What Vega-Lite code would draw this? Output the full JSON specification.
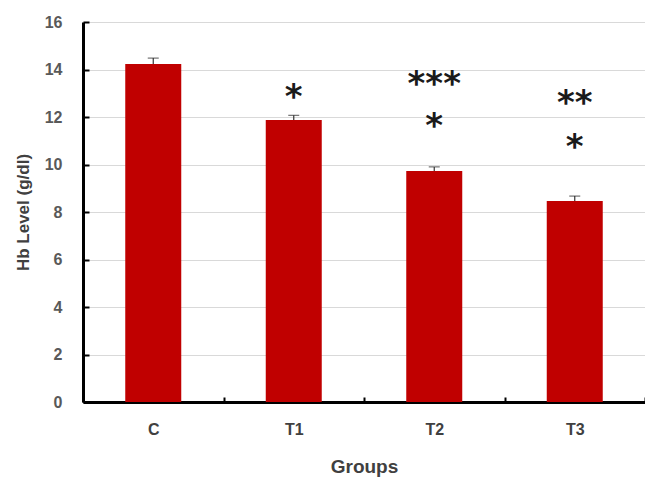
{
  "$schema": "https://vega.github.io/schema/vega-lite/v6.json",
  "autosize": {"type": "none"},
  "width": 562,
  "height": 380,
  "padding": {"left": 83, "top": 22, "right": 0, "bottom": 77},
  "background": "white",
  "config": {"view": {"stroke": null}, "font": "Liberation Sans"},
  "datasets": {
    "bars": [
      {"group": "C", "value": 14.23, "err": 0.25},
      {"group": "T1", "value": 11.87, "err": 0.2},
      {"group": "T2", "value": 9.73, "err": 0.17},
      {"group": "T3", "value": 8.46, "err": 0.21}
    ],
    "stars": [
      {"group": "T1", "label": "*", "pos": 13.09},
      {"group": "T2", "label": "***", "pos": 13.64},
      {"group": "T2", "label": "*", "pos": 11.87},
      {"group": "T3", "label": "**", "pos": 12.84},
      {"group": "T3", "label": "*", "pos": 10.99}
    ]
  },
  "layer": [
    {
      "data": {"name": "bars"},
      "mark": {"type": "bar", "color": "#c00000", "width": 56},
      "encoding": {
        "x": {
          "field": "group", "type": "nominal", "sort": null,
          "scale": {"paddingInner": 0, "paddingOuter": 0},
          "axis": {
            "title": "Groups", "titleFontSize": 19, "titleFontWeight": "bold", "titleColor": "#404040",
            "titlePadding": 20,
            "labelAngle": 0, "labelFontSize": 16, "labelFontWeight": "bold", "labelColor": "#404040",
            "labelPadding": 24,
            "domainColor": "black", "domainWidth": 3,
            "ticks": true, "tickBand": "extent", "tickSize": -5, "tickColor": "black", "tickWidth": 2,
            "grid": false
          }
        },
        "y": {
          "field": "value", "type": "quantitative",
          "scale": {"domain": [0, 16], "nice": false},
          "axis": {
            "title": "Hb Level (g/dl)", "titleFontSize": 17, "titleFontWeight": "bold", "titleColor": "#404040",
            "titlePadding": 12,
            "values": [0, 2, 4, 6, 8, 10, 12, 14, 16],
            "labelFontSize": 16, "labelFontWeight": "bold", "labelColor": "#595959",
            "labelPadding": 27,
            "domainColor": "black", "domainWidth": 3,
            "tickSize": -6, "tickColor": "black", "tickWidth": 2,
            "grid": true, "gridColor": "#d9d9d9", "gridWidth": 1
          }
        }
      }
    },
    {
      "data": {"name": "bars"},
      "transform": [{"calculate": "datum.value + datum.err", "as": "hi"}],
      "mark": {"type": "rule", "color": "#333333", "strokeWidth": 1.2},
      "encoding": {
        "x": {"field": "group", "type": "nominal", "sort": null},
        "y": {"field": "hi", "type": "quantitative"},
        "y2": {"field": "value"}
      }
    },
    {
      "data": {"name": "bars"},
      "transform": [{"calculate": "datum.value + datum.err", "as": "hi"}],
      "mark": {"type": "tick", "color": "#333333", "thickness": 1.2, "size": 11, "orient": "horizontal"},
      "encoding": {
        "x": {"field": "group", "type": "nominal", "sort": null},
        "y": {"field": "hi", "type": "quantitative"}
      }
    },
    {
      "data": {"name": "stars"},
      "mark": {"type": "text", "font": "DejaVu Sans", "fontSize": 34, "fontWeight": "bold", "color": "#1a1a1a", "baseline": "middle", "dy": 7},
      "encoding": {
        "x": {"field": "group", "type": "nominal", "sort": null},
        "y": {"field": "pos", "type": "quantitative"},
        "text": {"field": "label"}
      }
    }
  ]
}
